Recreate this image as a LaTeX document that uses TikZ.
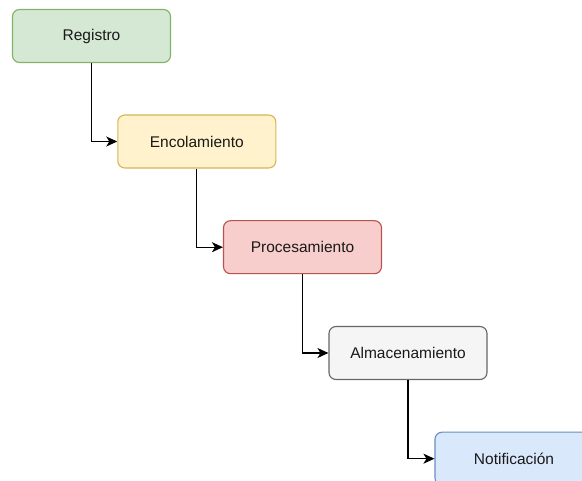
\documentclass[tikz,border=0pt]{standalone}
\usepackage{fontspec}
\setmainfont{Liberation Sans}
\usetikzlibrary{arrows.meta}
\definecolor{gfill}{HTML}{D5E8D4}\definecolor{gline}{HTML}{82B366}
\definecolor{yfill}{HTML}{FFF2CC}\definecolor{yline}{HTML}{D6B656}
\definecolor{rfill}{HTML}{F8CECC}\definecolor{rline}{HTML}{B85450}
\definecolor{sfill}{HTML}{F5F5F5}\definecolor{sline}{HTML}{666666}
\definecolor{bfill}{HTML}{DAE8FC}\definecolor{bline}{HTML}{6C8EBF}
\tikzset{
  stage/.style={draw, line width=1.1pt, rounded corners=7pt, minimum width=158pt,
    minimum height=53pt, inner sep=0pt, font=\fontsize{15.5}{18}\selectfont, text=black!90},
  link/.style={draw, line width=1.3pt, -{Stealth[length=11pt,width=10pt,inset=3pt]}}
}
\begin{document}
\begin{tikzpicture}[x=1pt,y=-1pt]
  \useasboundingbox (0,0) rectangle (582,481);
  \node[stage, fill=gfill, draw=gline] (reg) at (91.5,36) {Registro};
  \node[stage, fill=yfill, draw=yline] (enc) at (196.8,141.5) {Encolamiento};
  \node[stage, fill=rfill, draw=rline] (pro) at (302.5,247.2) {Procesamiento};
  \node[stage, fill=sfill, draw=sline] (alm) at (408,353) {Almacenamiento};
  \node[stage, fill=bfill, draw=bline] (not) at (514,458.7) {Notificación};
  \draw[link] (reg.south) |- (enc.west);
  \draw[link] (enc.south) |- (pro.west);
  \draw[link] (pro.south) |- (alm.west);
  \draw[link] (alm.south) |- (not.west);
\end{tikzpicture}
\end{document}
